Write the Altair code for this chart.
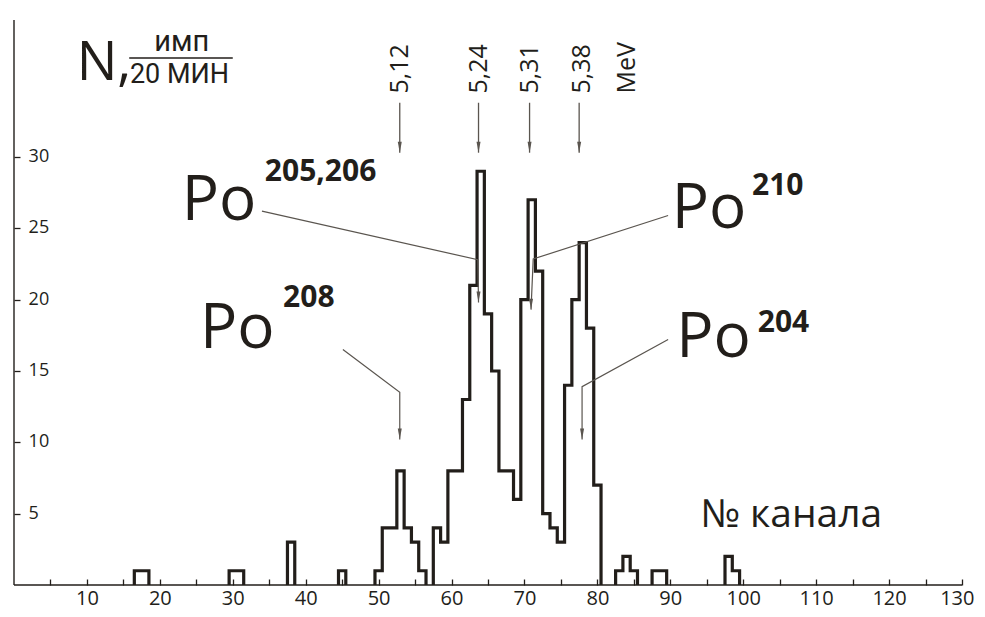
import altair as alt
import pandas as pd

# ---------------- data ----------------
channels = [17, 18, 30, 31, 38, 45, 50, 51, 52, 53, 54, 55, 56,
            58, 59, 60, 61, 62, 63, 64, 65, 66, 67, 68, 69, 70, 71, 72, 73, 74,
            75, 76, 77, 78, 79, 80, 83, 84, 85, 88, 89, 98, 99]
counts = [1, 1, 1, 1, 3, 1, 1, 4, 4, 8, 4, 3, 1,
          4, 3, 8, 8, 13, 21, 29, 19, 15, 8, 8, 6, 20, 27, 22, 5, 4,
          3, 14, 20, 24, 18, 7, 1, 2, 1, 1, 1, 2, 1]

x_ticks = list(range(5, 131, 5))
y_ticks = [5, 10, 15, 20, 25, 30]

energy_text = ["5,12", "5,24", "5,31", "5,38", "MeV"]
energy_pos = [52.9, 63.8, 70.8, 77.9, 84.1]
arrow_pos = [52.9, 63.7, 70.7, 77.5]

po_text = ["Po", "Po", "Po", "Po"]
po_c = [23.0, 90.2, 25.5, 90.8]
po_n = [25.6, 25.0, 16.6, 16.0]
sup_text = ["205,206", "210", "208", "204"]
sup_c = [34.4, 101.2, 36.9, 102.0]
sup_n = [28.3, 27.3, 19.5, 17.7]

# leader polylines: start -> corner -> tip
leader_c = [[34.0, 63.6, 63.7], [89.7, 71.2, 70.9], [45.1, 52.9, 52.9], [89.7, 77.9, 77.9]]
leader_n = [[26.2, 22.8, 19.8], [25.9, 22.85, 19.3], [16.5, 13.5, 10.2], [17.2, 13.9, 10.2]]

# ---------------- derived tables ----------------
rows = []
o = 0
g = 0
prev = None
for c, v in zip(channels, counts):
    if prev is None or c != prev + 1:
        if prev is not None:
            rows.append(dict(c=prev + 0.5, n=0, g=g, o=o)); o += 1
            g += 1
        rows.append(dict(c=c - 0.5, n=0, g=g, o=o)); o += 1
    rows.append(dict(c=c - 0.5, n=v, g=g, o=o)); o += 1
    prev = c
rows.append(dict(c=prev + 0.5, n=0, g=g, o=o))
hist = pd.DataFrame(rows)

XMAX = 130
YMAX = 39.6
xs = alt.Scale(domain=[0, XMAX], nice=False, zero=False)
ys = alt.Scale(domain=[0, YMAX], nice=False, zero=False)

INK = "#221e1a"
THIN = "#5a554f"
FONT = "Open Sans"
TFONT = "Roboto"

AX = alt.Axis(
    values=x_ticks, labelExpr="datum.value % 10 == 0 ? datum.label : ''",
    domain=False, grid=False, offset=-6, tickSize=6, tickWidth=1.3,
    tickColor=INK, labelPadding=19, labelFontSize=20, labelFont=FONT,
    labelColor=INK, labelBaseline="alphabetic", labelAngle=0, labelFlush=True,
    labelFlushOffset=12, labelOverlap=False, title=None)
AY = alt.Axis(
    values=y_ticks, domain=False, grid=False, offset=-6, tickSize=6,
    tickWidth=1.3, tickColor=INK, labels=False, title=None)


def X(f="c"):
    return alt.X(f + ":Q", scale=xs, axis=AX)


def Y(f="n"):
    return alt.Y(f + ":Q", scale=ys, axis=AY)


base_line = alt.Chart(hist).mark_line(
    interpolate="step-after", color=INK, strokeWidth=3.2, strokeJoin="miter"
).encode(x=X(), y=Y(), detail="g:N", order="o:Q")

axis_x = alt.Chart(pd.DataFrame({"c": [0], "c2": [XMAX], "n": [0]})).mark_rule(
    color=INK, strokeWidth=1.4).encode(x=X(), x2="c2:Q", y=Y())
axis_y = alt.Chart(pd.DataFrame({"c": [0], "n": [0], "n2": [YMAX]})).mark_rule(
    color=INK, strokeWidth=1.4).encode(x=X(), y=Y(), y2="n2:Q")

# y tick labels (drawn inside the plot, right of the axis line)
ylab_df = pd.DataFrame({"c": [2.0] * len(y_ticks), "n": y_ticks,
                        "t": [str(v) for v in y_ticks]})
y_labels = alt.Chart(ylab_df).mark_text(
    align="left", baseline="middle", fontSize=18, font=FONT, color=INK
).encode(x=X(), y=Y(), text="t:N")

# energy arrows
earrow = pd.DataFrame({"c": arrow_pos, "n": [33.8] * 4, "tip": [30.3] * 4})
e_rules = alt.Chart(earrow).mark_rule(color=THIN, strokeWidth=1.3).encode(
    x=X(), y=Y(), y2="tip:Q")
HEAD = "M-0.4,-2.2L0,0L0.4,-2.2Z"
e_heads = alt.Chart(earrow).mark_point(
    shape=HEAD, filled=True, size=100, color=THIN, opacity=1).encode(x=X(), y=Y("tip"))

etext = pd.DataFrame({"c": energy_pos, "n": [34.45] * 5, "t": energy_text})
e_labels = alt.Chart(etext).mark_text(
    angle=270, align="left", baseline="middle", fontSize=25, font=FONT, color=INK
).encode(x=X(), y=Y(), text="t:N")

# leaders
lrows = []
for i, (cc, nn) in enumerate(zip(leader_c, leader_n)):
    for j, (a, b) in enumerate(zip(cc, nn)):
        lrows.append(dict(c=a, n=b, g=i, o=j))
ldf = pd.DataFrame(lrows)
leaders = alt.Chart(ldf).mark_line(color=THIN, strokeWidth=1.2).encode(
    x=X(), y=Y(), detail="g:N", order="o:Q")
tips = pd.DataFrame({"c": [c[-1] for c in leader_c], "n": [n[-1] for n in leader_n]})
l_heads = alt.Chart(tips).mark_point(
    shape=HEAD, filled=True, size=100, color=THIN, opacity=1).encode(x=X(), y=Y())

po_df = pd.DataFrame({"c": po_c, "n": po_n, "t": po_text})
po_labels = alt.Chart(po_df).mark_text(
    align="left", baseline="alphabetic", fontSize=62, font=FONT, color=INK
).encode(x=X(), y=Y(), text="t:N")
sup_df = pd.DataFrame({"c": sup_c, "n": sup_n, "t": sup_text})
sup_labels = alt.Chart(sup_df).mark_text(
    align="left", baseline="alphabetic", fontSize=30, fontWeight="bold", font=FONT, color=INK
).encode(x=X(), y=Y(), text="t:N")

# y title  N, имп / 20 мин
title_n = alt.Chart(pd.DataFrame({"c": [8.6], "n": [35.4], "t": ["N,"]})).mark_text(
    align="left", baseline="alphabetic", fontSize=54, font=FONT, color=INK
).encode(x=X(), y=Y(), text="t:N")
title_num = alt.Chart(pd.DataFrame({"c": [23.0], "n": [37.4], "t": ["имп"]})).mark_text(
    align="center", baseline="alphabetic", fontSize=29, font=TFONT, color=INK
).encode(x=X(), y=Y(), text="t:N")
title_den = alt.Chart(pd.DataFrame({"c": [15.9], "n": [35.15], "t": ["20 МИН"]})).mark_text(
    align="left", baseline="alphabetic", fontSize=27, font=TFONT, color=INK
).encode(x=X(), y=Y(), text="t:N")
frac = alt.Chart(pd.DataFrame({"c": [15.8], "c2": [30.0], "n": [36.94]})).mark_rule(
    color=INK, strokeWidth=1.6).encode(x=X(), x2="c2:Q", y=Y())

xlab = alt.Chart(pd.DataFrame({"c": [94.1], "n": [4.1], "t": ["№ канала"]})).mark_text(
    align="left", baseline="alphabetic", fontSize=39, font=FONT, color=INK
).encode(x=X(), y=Y(), text="t:N")

chart = alt.layer(
    base_line, axis_x, axis_y, y_labels, e_rules, e_heads, e_labels, leaders, l_heads,
    po_labels, sup_labels, title_n, title_num, title_den, frac, xlab
).properties(
    width=948, height=565,
    padding={"left": 6, "top": 12, "right": 15, "bottom": 24},
    autosize=alt.AutoSizeParams(type="none"),
).configure(background="#ffffff").configure_view(stroke=None)

chart.save("out.html", embed_options={"renderer": "svg", "actions": False})
